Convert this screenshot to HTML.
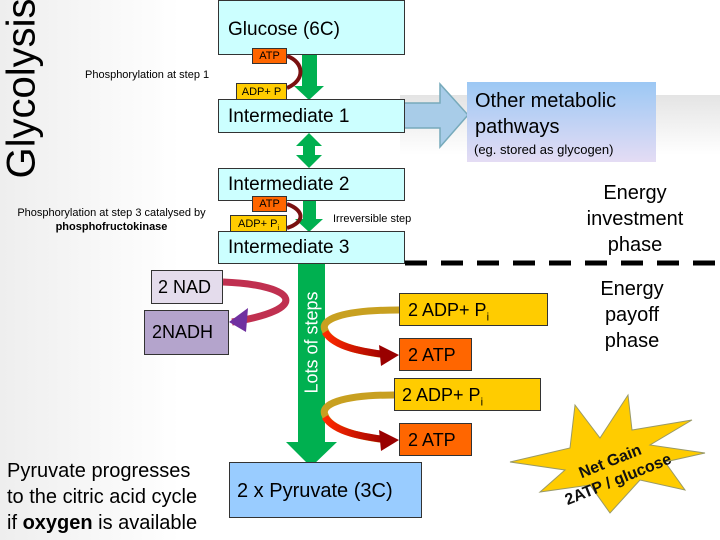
<!DOCTYPE html>
<html><head><meta charset="utf-8"><style>
body{margin:0}
#c{position:relative;width:720px;height:540px;background:#fff;overflow:hidden;font-family:"Liberation Sans",sans-serif}
.b{position:absolute;box-sizing:border-box;border:1px solid #333}
.t{position:absolute;white-space:nowrap}
</style></head><body><div id="c">
<div style="position:absolute;left:0;top:0;width:180px;height:540px;background:linear-gradient(90deg,#eee,#fff)"></div>
<div style="position:absolute;left:400px;top:95px;width:320px;height:60px;background:linear-gradient(180deg,#e4e4e4,#fff)"></div>
<div class="t" style="left:-68px;top:66px;transform:rotate(-90deg);font-size:40px;width:180px;text-align:center">Glycolysis</div>

<svg style="position:absolute;left:0;top:0" width="720" height="540">
<defs>
<linearGradient id="og" x1="0" x2="0" y1="0" y2="1"><stop offset="0" stop-color="#9cc8f4"/><stop offset="1" stop-color="#e4dcf4"/></linearGradient>
<linearGradient id="rg" x1="0" x2="1"><stop offset="0" stop-color="#ff2a00"/><stop offset="1" stop-color="#900"/></linearGradient>
</defs>
<polygon points="377,103 440,103 440,84 468,115 440,147 440,128 377,128" fill="#a8cce8" stroke="#7ab" stroke-width="1.5"/>
<rect x="467" y="82" width="189" height="80" fill="url(#og)"/>
<polygon points="302,55 317,55 317,86 324,86 309,100 294,86 302,86" fill="#00b050"/>
<polygon points="309,133 322,146 315,146 315,155 322,155 309,168 296,155 303,155 303,146 296,146" fill="#00b050"/>
<polygon points="303,201 316,201 316,219 323,219 309,232 295,219 303,219" fill="#00b050"/>
<polygon points="298,264 325,264 325,442 337,442 311,467 286,442 298,442" fill="#00b050"/>
<path d="M287,56 C304,62 306,80 287,88" fill="none" stroke="#7a1010" stroke-width="4"/>
<path d="M287,204 C304,210 306,222 287,228" fill="none" stroke="#7a1010" stroke-width="4"/>
<path d="M223,282 C300,285 310,310 232,322" fill="none" stroke="#c03050" stroke-width="7"/>
<polygon points="229,322 248,308 246,332" fill="#7030a0"/>
<path d="M399,310 C340,310 320,320 325,330 C330,345 360,352 388,355" fill="none" stroke="#c8a020" stroke-width="7"/>
<path d="M325,332 C335,348 365,352 388,355" fill="none" stroke="url(#rg)" stroke-width="7"/>
<polygon points="399,355 379,345 381,366" fill="#900"/>
<path d="M394,395 C340,395 320,405 325,415 C330,430 360,437 388,440" fill="none" stroke="#c8a020" stroke-width="7"/>
<path d="M325,417 C335,433 365,437 388,440" fill="none" stroke="url(#rg)" stroke-width="7"/>
<polygon points="399,440 379,430 381,451" fill="#900"/>
<line x1="405" y1="263" x2="720" y2="263" stroke="#000" stroke-width="5" stroke-dasharray="22,14"/>
<polygon points="510,462 570,448 575,405 600,438 628,395 632,430 692,420 650,445 705,453 665,462 685,490 640,480 610,513 590,485 540,492 565,470" fill="#ffcc00" stroke="#996" stroke-width="1"/>
<text transform="translate(612,466) rotate(-22)" font-family="Liberation Sans" font-size="16" font-weight="bold" fill="#111" text-anchor="middle">Net Gain</text>
<text transform="translate(620,484) rotate(-22)" font-family="Liberation Sans" font-size="16" font-weight="bold" fill="#111" text-anchor="middle">2ATP / glucose</text>
</svg>

<div class="b" style="left:218px;top:0;width:187px;height:55px;background:#ccffff"><span class="t" style="left:9px;top:18px;font-size:19px">Glucose (6C)</span></div>
<div class="b" style="left:252px;top:48px;width:35px;height:16px;background:#ff6600;font-size:11px;text-align:center;line-height:15px">ATP</div>
<div class="b" style="left:236px;top:83px;width:51px;height:17px;background:#ffcc00;font-size:11px;text-align:center;line-height:16px">ADP+ P</div>
<div class="b" style="left:218px;top:99px;width:187px;height:34px;background:#ccffff"><span class="t" style="left:9px;top:6px;font-size:19px">Intermediate 1</span></div>
<div class="t" style="left:85px;top:69px;font-size:11px">Phosphorylation at step 1</div>
<div class="t" style="left:475px;top:88px;font-size:20px;line-height:26px">Other metabolic<br>pathways</div>
<div class="t" style="left:474px;top:142px;font-size:13px">(eg. stored as glycogen)</div>
<div class="b" style="left:218px;top:168px;width:187px;height:33px;background:#ccffff"><span class="t" style="left:9px;top:5px;font-size:19px">Intermediate 2</span></div>
<div class="b" style="left:252px;top:196px;width:35px;height:16px;background:#ff6600;font-size:11px;text-align:center;line-height:15px">ATP</div>
<div class="b" style="left:230px;top:215px;width:57px;height:17px;background:#ffcc00;font-size:11px;text-align:center;line-height:16px">ADP+ P<sub style="font-size:7px">i</sub></div>
<div class="b" style="left:218px;top:231px;width:187px;height:33px;background:#ccffff"><span class="t" style="left:9px;top:5px;font-size:19px">Intermediate 3</span></div>
<div class="t" style="left:9px;top:206px;font-size:11px;text-align:center;width:205px;line-height:14px">Phosphorylation at step 3 catalysed by<br><b>phosphofructokinase</b></div>
<div class="t" style="left:333px;top:213px;font-size:11px">Irreversible step</div>
<div class="t" style="left:560px;top:180px;width:150px;text-align:center;font-size:20px;line-height:26px">Energy<br>investment<br>phase</div>
<div class="t" style="left:557px;top:276px;width:150px;text-align:center;font-size:20px;line-height:26px">Energy<br>payoff<br>phase</div>
<div class="b" style="left:151px;top:270px;width:72px;height:34px;background:#e4dcec"><span class="t" style="left:6px;top:6px;font-size:18px">2 NAD</span></div>
<div class="b" style="left:144px;top:310px;width:85px;height:45px;background:#b4a4cc"><span class="t" style="left:7px;top:11px;font-size:18px">2NADH</span></div>
<div class="t" style="left:237px;top:332px;width:150px;text-align:center;transform:rotate(-90deg);font-size:18px;color:#fff">Lots of steps</div>
<div class="b" style="left:399px;top:293px;width:149px;height:33px;background:#ffcc00"><span class="t" style="left:8px;top:6px;font-size:18px">2 ADP+ P<sub style="font-size:11px">i</sub></span></div>
<div class="b" style="left:399px;top:338px;width:73px;height:33px;background:#ff6600"><span class="t" style="left:8px;top:6px;font-size:18px">2 ATP</span></div>
<div class="b" style="left:394px;top:378px;width:147px;height:33px;background:#ffcc00"><span class="t" style="left:7px;top:6px;font-size:18px">2 ADP+ P<sub style="font-size:11px">i</sub></span></div>
<div class="b" style="left:399px;top:423px;width:73px;height:33px;background:#ff6600"><span class="t" style="left:8px;top:6px;font-size:18px">2 ATP</span></div>
<div class="b" style="left:229px;top:462px;width:193px;height:56px;background:#99ccff"><span class="t" style="left:7px;top:17px;font-size:20px">2 x Pyruvate (3C)</span></div>
<div class="t" style="left:7px;top:458px;font-size:20px;line-height:26px">Pyruvate progresses<br>to the citric acid cycle<br>if <b>oxygen</b> is available</div>
</div></body></html>
